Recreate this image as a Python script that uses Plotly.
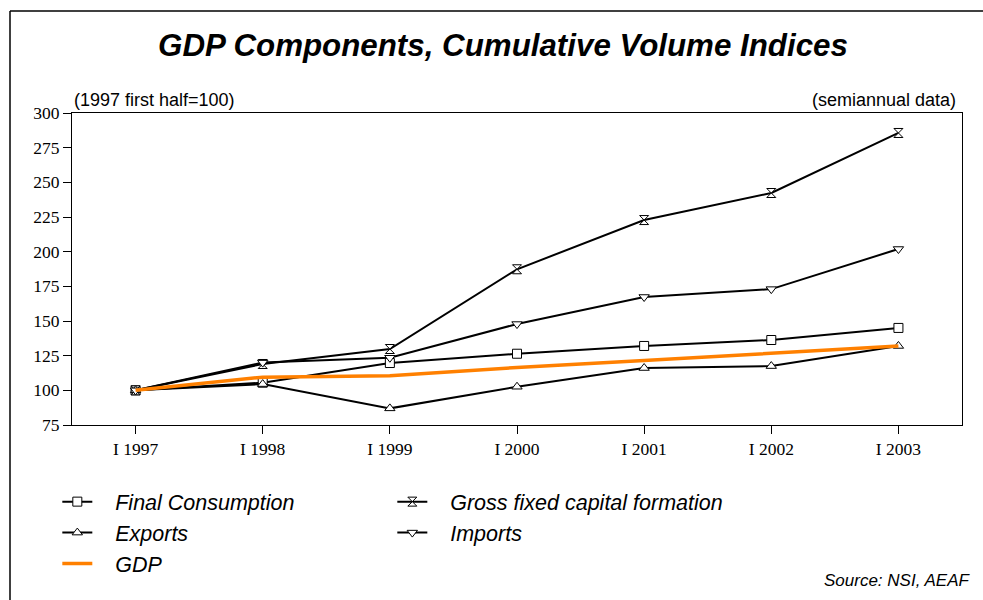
import plotly.graph_objects as go

categories = ["I 1997", "I 1998", "I 1999", "I 2000", "I 2001", "I 2002", "I 2003"]
final_consumption = [100, 105.5, 119.7, 126.4, 132, 136.3, 145]
gfcf = [100, 119, 129.8, 187.3, 222.8, 242.3, 285.6]
exports = [100, 104.5, 87, 102.6, 116.1, 117.5, 132]
imports = [100, 120, 123.5, 147.8, 167.3, 173, 201.9]
gdp = [100, 109.5, 110.5, 116.5, 121.5, 126.5, 132]
y_ticks = [75, 100, 125, 150, 175, 200, 225, 250, 275, 300]

PAD = "\u00a0\u00a0\u00a0"

fig = go.Figure()

def marker_trace(name, y, symbol):
    return go.Scatter(
        x=categories, y=y, name=PAD + name, mode="lines+markers",
        line=dict(color="black", width=2),
        marker=dict(symbol=symbol, size=9, color="white",
                    line=dict(color="black", width=1)),
    )

fig.add_trace(marker_trace("Final Consumption", final_consumption, "square"))
fig.add_trace(marker_trace("Gross fixed capital formation", gfcf, "hourglass"))
fig.add_trace(marker_trace("Exports", exports, "triangle-up"))
fig.add_trace(marker_trace("Imports", imports, "triangle-down"))
fig.add_trace(go.Scatter(x=categories, y=gdp, name=PAD + "GDP", mode="lines",
                         line=dict(color="#FF8000", width=3.5)))

serif = "Liberation Serif, Times New Roman, serif"
sans = "Liberation Sans, Arial, sans-serif"

fig.update_layout(
    width=983, height=600,
    margin=dict(l=72, r=21, t=113, b=175),
    paper_bgcolor="white", plot_bgcolor="white",
    title=dict(text="<b><i>GDP Components, Cumulative Volume Indices</i></b>",
               x=(503 - 72) / 890, xref="paper", xanchor="center",
               y=0.925, yanchor="middle",
               font=dict(family=sans, size=31.3, color="black")),
    xaxis=dict(type="category", range=[-0.5, 6.5], showline=True, linecolor="black",
               linewidth=1, mirror=True, ticks="outside", ticklen=8, tickcolor="black",
               showgrid=False, tickfont=dict(family=serif, size=17.5, color="black")),
    yaxis=dict(range=[75, 300], tickvals=y_ticks, showline=True, linecolor="black",
               linewidth=1, mirror=True, ticks="outside", ticklen=8, tickcolor="black",
               showgrid=False, zeroline=False,
               tickfont=dict(family=serif, size=17.5, color="black")),
    legend=dict(orientation="h", x=-0.0165, xanchor="left", y=-0.18, yanchor="top",
                entrywidth=290, entrywidthmode="pixels", traceorder="normal",
                font=dict(family=sans, size=21.5, color="black", style="italic"),
                itemwidth=30, tracegroupgap=0, bgcolor="rgba(0,0,0,0)"),
    showlegend=True,
)

fig.add_annotation(text="(1997 first half=100)", xref="paper", yref="paper",
                   x=0, y=1.0, xanchor="left", yanchor="bottom", showarrow=False,
                   yshift=1, font=dict(family=sans, size=18, color="black"))
fig.add_annotation(text="(semiannual data)", xref="paper", yref="paper",
                   x=0.9955, y=1.0, xanchor="right", yanchor="bottom", showarrow=False,
                   yshift=1, font=dict(family=sans, size=18, color="black"))
fig.add_annotation(text="<i>Source: NSI, AEAF</i>", xref="paper", yref="paper",
                   x=(972 - 72) / 890, y=(425 - 580) / 312, xanchor="right",
                   yanchor="middle", showarrow=False,
                   font=dict(family=sans, size=17, color="black"))

# outer frame (left and top edges)
fig.add_shape(type="line", xref="paper", yref="paper",
              x0=(10 - 72) / 890, x1=(10 - 72) / 890,
              y0=(425 - 11) / 312, y1=(425 - 600) / 312,
              line=dict(color="black", width=1.5))
fig.add_shape(type="line", xref="paper", yref="paper",
              x0=(10 - 72) / 890, x1=(983 - 72) / 890,
              y0=(425 - 11) / 312, y1=(425 - 11) / 312,
              line=dict(color="black", width=1.5))

fig.write_html("out.html", config={"displayModeBar": False},
               post_script="document.body.style.margin='0';document.body.style.overflow='hidden';")
